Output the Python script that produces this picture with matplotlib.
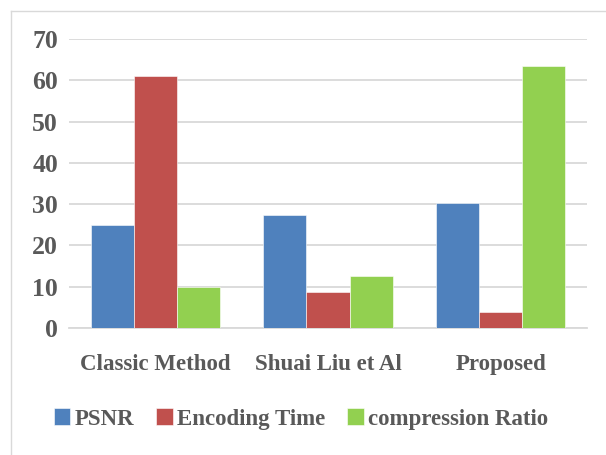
import numpy as np
import matplotlib.pyplot as plt
from matplotlib.lines import Line2D

CATEGORIES = ['Classic Method', 'Shuai Liu et Al', 'Proposed']
SERIES = ['PSNR', 'Encoding Time', 'compression Ratio']
PSNR = [25, 27.4, 30.3]
ENCODING_TIME = [61, 8.8, 3.8]
COMPRESSION_RATIO = [9.9, 12.6, 63.4]
YTICKS = [0, 10, 20, 30, 40, 50, 60, 70]

COLORS = ['#4F81BD', '#C0504D', '#92D050']
TEXT_COLOR = '#595959'
GRID_COLOR = '#D9D9D9'

plt.rcParams['font.family'] = ['Liberation Serif', 'DejaVu Serif']
plt.rcParams['font.weight'] = 'bold'

fig = plt.figure(figsize=(6.06, 4.55), dpi=100)
ax = fig.add_axes([69 / 606, (455 - 328) / 455, (587 - 69) / 606, (328 - 39) / 455])

x = np.arange(len(CATEGORIES)) + 0.5
width = 0.25
for i, (vals, color) in enumerate(zip([PSNR, ENCODING_TIME, COMPRESSION_RATIO], COLORS)):
    ax.bar(x + (i - 1) * width, vals, width, color=color, edgecolor='white',
           linewidth=0.4, label=SERIES[i], zorder=3)

ax.set_xlim(0, len(CATEGORIES))
ax.set_ylim(0, 70)
ax.set_yticks(YTICKS)
ax.set_xticks(x)
ax.set_xticklabels(CATEGORIES)
ax.grid(axis='y', color=GRID_COLOR, linewidth=1.3, zorder=0)
ax.tick_params(axis='both', length=0, labelcolor=TEXT_COLOR)
ax.tick_params(axis='y', pad=8, labelsize=18.5)
ax.tick_params(axis='x', pad=19, labelsize=16.5)
for side in ['left', 'right', 'top']:
    ax.spines[side].set_visible(False)
ax.spines['bottom'].set_color(GRID_COLOR)
ax.spines['bottom'].set_linewidth(1.3)

leg = fig.legend(loc='center', bbox_to_anchor=(0.497, 0.079), ncol=3, frameon=False,
                 fontsize=16.5, handlelength=0.72, handleheight=0.72, handletextpad=0.2,
                 columnspacing=0.95, labelcolor=TEXT_COLOR)

# light frame around the chart area
fig.add_artist(Line2D([11 / 606, 11 / 606], [0, 1 - 11 / 455], color='#D9D9D9', linewidth=1,
                      transform=fig.transFigure))
fig.add_artist(Line2D([11 / 606, 1], [1 - 11 / 455, 1 - 11 / 455], color='#D9D9D9', linewidth=1,
                      transform=fig.transFigure))

fig.savefig('out.png', dpi=100)
